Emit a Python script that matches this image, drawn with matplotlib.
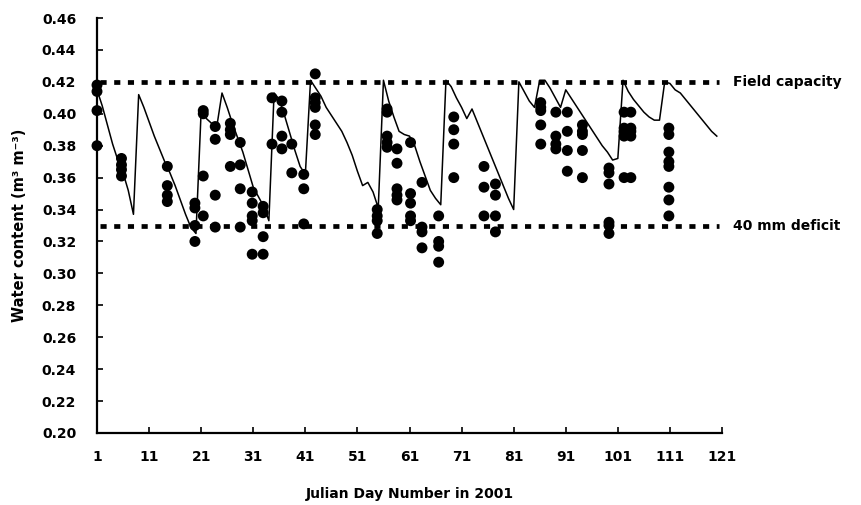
import matplotlib
matplotlib.use("Agg")
import matplotlib.pyplot as plt

plt.rcParams['font.family'] = ['DejaVu Sans']
plt.rcParams['font.weight'] = 'bold'

# Simulated daily soil water content (m3 m-3)
model_day = list(range(1, 121))
model_wc = [
    0.415, 0.405, 0.393, 0.381, 0.371, 0.363, 0.352, 0.337, 0.412, 0.404,
    0.395, 0.386, 0.378, 0.370, 0.363, 0.355, 0.346, 0.337, 0.329, 0.325,
    0.402, 0.397, 0.394, 0.392, 0.413, 0.404, 0.394, 0.385, 0.376, 0.365,
    0.354, 0.348, 0.342, 0.333, 0.413, 0.409, 0.399, 0.388, 0.377, 0.367,
    0.362, 0.421, 0.416, 0.411, 0.404, 0.399, 0.394, 0.389, 0.382, 0.374,
    0.364, 0.355, 0.357, 0.351, 0.341, 0.421, 0.408, 0.398, 0.389, 0.387,
    0.386, 0.380, 0.370, 0.361, 0.352, 0.347, 0.343, 0.421, 0.417, 0.410,
    0.404, 0.397, 0.403, 0.395, 0.387, 0.379, 0.371, 0.363, 0.355, 0.347,
    0.340, 0.420, 0.414, 0.408, 0.404, 0.421, 0.421, 0.416, 0.410, 0.404,
    0.415, 0.410, 0.405, 0.400, 0.395, 0.390, 0.385, 0.380, 0.376, 0.371,
    0.372, 0.421, 0.414, 0.409, 0.405, 0.401, 0.398, 0.396, 0.396, 0.420,
    0.419, 0.415, 0.413, 0.409, 0.405, 0.401, 0.397, 0.393, 0.389, 0.386,
]

# Measured water content (probe readings), grouped by sampling day
obs_day = (
    [1] * 4 + [5.7] * 4 + [14.5] * 4 + [19.8] * 4 + [21.4] * 4 + [23.7] * 4
    + [26.6] * 4 + [28.5] * 4 + [30.8] * 5 + [32.9] * 4 + [34.6] * 2
    + [36.5] * 4 + [38.4] * 2 + [40.7] * 3 + [42.9] * 6 + [54.8] * 4
    + [56.7] * 5 + [58.6] * 5 + [61.2] * 5 + [63.4] * 4 + [66.6] * 4
    + [69.5] * 4 + [75.3] * 3 + [77.5] * 4 + [86.2] * 5 + [89.1] * 4
    + [91.3] * 4 + [94.2] * 5 + [99.3] * 6 + [102.2] * 5 + [103.5] * 5
    + [110.8] * 8
)
obs_wc = [
    0.418, 0.414, 0.402, 0.380,
    0.372, 0.368, 0.365, 0.361,
    0.367, 0.355, 0.349, 0.345,
    0.344, 0.341, 0.330, 0.320,
    0.402, 0.400, 0.361, 0.336,
    0.392, 0.384, 0.349, 0.329,
    0.394, 0.390, 0.387, 0.367,
    0.382, 0.368, 0.353, 0.329,
    0.351, 0.344, 0.336, 0.333, 0.312,
    0.342, 0.338, 0.323, 0.312,
    0.410, 0.381,
    0.408, 0.401, 0.386, 0.378,
    0.381, 0.363,
    0.362, 0.353, 0.331,
    0.425, 0.410, 0.407, 0.404, 0.393, 0.387,
    0.340, 0.336, 0.333, 0.325,
    0.403, 0.401, 0.386, 0.382, 0.379,
    0.378, 0.369, 0.353, 0.349, 0.346,
    0.382, 0.350, 0.344, 0.336, 0.333,
    0.357, 0.329, 0.326, 0.316,
    0.336, 0.320, 0.317, 0.307,
    0.398, 0.390, 0.381, 0.360,
    0.367, 0.354, 0.336,
    0.356, 0.349, 0.336, 0.326,
    0.407, 0.404, 0.402, 0.393, 0.381,
    0.401, 0.386, 0.381, 0.378,
    0.401, 0.389, 0.377, 0.364,
    0.393, 0.389, 0.387, 0.377, 0.360,
    0.366, 0.363, 0.356, 0.332, 0.330, 0.325,
    0.401, 0.391, 0.389, 0.386, 0.360,
    0.401, 0.391, 0.389, 0.386, 0.360,
    0.391, 0.387, 0.376, 0.370, 0.367, 0.354, 0.346, 0.336,
]

field_capacity = 0.42
deficit_40mm = 0.33

x_ticks = list(range(1, 122, 10))
y_ticks = [0.20, 0.22, 0.24, 0.26, 0.28, 0.30, 0.32, 0.34, 0.36, 0.38,
           0.40, 0.42, 0.44, 0.46]

fig = plt.figure(figsize=(8.61, 5.05), dpi=100)
ax = fig.add_axes([97 / 861, 1 - 433 / 505, (722 - 97) / 861, (433 - 18) / 505])

# Reference levels
for level in (field_capacity, deficit_40mm):
    ax.plot([1.6, 120.5], [level, level], color='black', lw=3.4,
            linestyle=(0, (1.3, 1.6)), solid_capstyle='butt',
            dash_capstyle='butt', zorder=2, clip_on=False)

ax.plot(model_day, model_wc, color='black', lw=1.1, zorder=3)
ax.scatter(obs_day, obs_wc, s=62, color='black', edgecolors='none',
           zorder=4, clip_on=False)

label_x = 1.0 + (733 - 722) / (722 - 97)
ax.text(label_x, field_capacity, 'Field capacity',
        transform=ax.get_yaxis_transform(), ha='left', va='center',
        fontsize=10, fontweight='bold')
ax.text(label_x, deficit_40mm, '40 mm deficit',
        transform=ax.get_yaxis_transform(), ha='left', va='center',
        fontsize=10, fontweight='bold')

ax.set_xlim(1, 121)
ax.set_ylim(0.20, 0.46)
ax.set_xticks(x_ticks)
ax.set_xticklabels([str(t) for t in x_ticks])
ax.set_yticks(y_ticks)
ax.set_yticklabels([f'{t:.2f}' for t in y_ticks])

for side in ('top', 'right'):
    ax.spines[side].set_visible(False)
for side in ('left', 'bottom'):
    ax.spines[side].set_linewidth(1.6)

ax.tick_params(axis='y', direction='in', length=4, width=1.2, pad=15,
               labelsize=10)
ax.tick_params(axis='x', direction='in', length=4, width=1.2, pad=12,
               labelsize=10)
for lab in ax.get_xticklabels() + ax.get_yticklabels():
    lab.set_fontweight('bold')

ax.set_xlabel('Julian Day Number in 2001', fontsize=10, fontweight='bold',
              labelpad=17)
ax.set_ylabel('Water content (m³ m⁻³)', fontsize=10.5, fontweight='bold',
              labelpad=11)

fig.savefig('out.png', dpi=100)
